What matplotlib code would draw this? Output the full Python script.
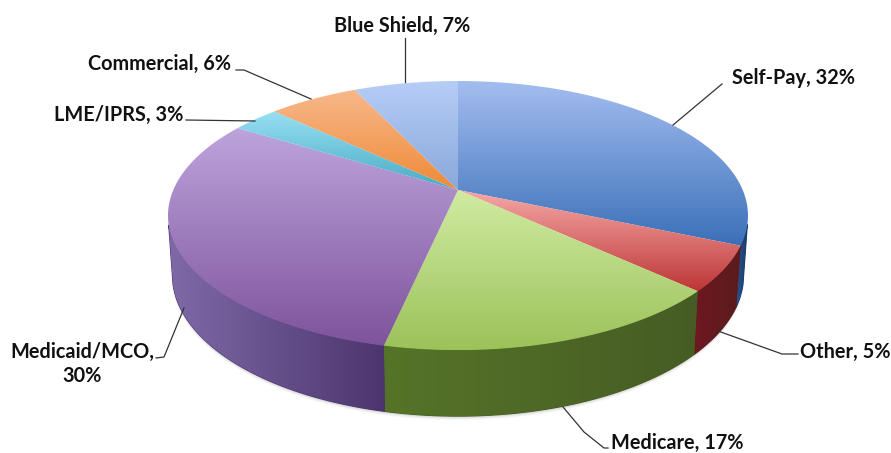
import numpy as np
import matplotlib
matplotlib.use("Agg")
import matplotlib.pyplot as plt
from matplotlib.colors import LinearSegmentedColormap
from matplotlib.patches import Polygon

categories = ["Self-Pay", "Other", "Medicare", "Medicaid/MCO", "LME/IPRS", "Commercial", "Blue Shield"]
shares = [31.5, 5.4, 16.5, 30.4, 3.2, 6.0, 7.0]
label_texts = ["Self-Pay, 32%", "Other, 5%", "Medicare, 17%", "Medicaid/MCO,\n30%",
               "LME/IPRS, 3%", "Commercial, 6%", "Blue Shield, 7%"]
label_xy = [(794, 78), (845, 352), (677, 443), (82, 364), (119, 115), (160, 64), (402, 26)]
leaders = [[(722, 84), (673, 125)],
           [(718, 331), (782, 354), (798, 354)],
           [(563, 407), (584, 432), (604, 448), (608, 448)],
           [(184, 308), (164, 357), (156, 358)],
           [(186, 120), (255, 121)],
           [(236, 70), (244, 70), (311, 99)],
           [(405, 38), (405, 82)]]
top_colors = [("#A4BDF0", "#3A70B8"), ("#F5AAA8", "#BE3636"), ("#D0EBA2", "#9CC25A"),
              ("#BDA4DC", "#7E539C"), ("#98E0F2", "#48AAC4"), ("#F8B88C", "#EF8A36"),
              ("#B6CDF7", "#8AA8DA")]
wall_colors = [("#2A5590", "#1B3A6C"), ("#6E1820", "#5A1C1C"), ("#567428", "#465C24"),
               ("#4C356E", "#7F6AA8"), ("#4BACC6", "#4BACC6"), ("#F08C3A", "#F08C3A"),
               ("#8AA8DA", "#8AA8DA")]

CX, CY = 458.0, 190.0
A, B, C = 284.7, 129.7, 0.19
WX, WY, BASE = 0.985, 1.05, 248.0
W, H = 891, 453

fig = plt.figure(figsize=(W / 100, H / 100), dpi=100)
ax = fig.add_axes([0, 0, 1, 1])
ax.set_xlim(0, W)
ax.set_ylim(H, 0)
ax.axis("off")


def rim(t):
    u, v = np.sin(t), np.cos(t)
    w = 1 + C * v
    return A * u / w, B * v / w


def fill(poly, c0, c1, vertical, lo, hi, z, seam=0.0):
    # a solid underlay closes the antialiased seam left by the clipped gradient
    if seam:
        ax.add_patch(Polygon(poly, closed=True, fc=c1, ec=c1, lw=seam, zorder=z - 0.5))
    cmap = LinearSegmentedColormap.from_list("g", [c0, c1])
    g = np.linspace(0, 1, 256)
    img = g[:, None] if vertical else g[None, :]
    ext = (0, W, hi, lo) if vertical else (lo, hi, H, 0)
    im = ax.imshow(img, cmap=cmap, extent=ext, aspect="auto", zorder=z, interpolation="bilinear")
    patch = Polygon(poly, closed=True, transform=ax.transData, fc="none", ec="none")
    ax.add_patch(patch)
    im.set_clip_path(patch)


edges = np.r_[0, np.cumsum(shares)] / np.sum(shares) * 2 * np.pi

# soft shadow under the disc (front part only)
full = np.linspace(np.pi * 0.6, np.pi * 1.4, 300)
fx, fy = rim(full)
for grow, alpha in [(4, 0.04), (3, 0.06), (2, 0.08), (1, 0.12)]:
    ax.fill(CX + WX * fx, BASE - WY * fy + grow, color="#555555", alpha=alpha, lw=0, zorder=1)

for i in range(len(shares)):
    t = np.linspace(edges[i], edges[i + 1], 300)
    t = t[np.cos(t) < -0.25]  # rear walls are hidden by the top face
    if t.size < 2:
        continue
    dx, dy = rim(t)
    tx, ty = CX + dx, CY - dy
    bx, by = CX + WX * dx, BASE - WY * dy
    wall = np.r_[np.c_[tx, ty], np.c_[bx, by][::-1]]
    c0, c1 = wall_colors[i]
    if t[0] > np.pi:
        c0, c1 = c1, c0
    fill(wall, c0, c1, False, wall[:, 0].min(), wall[:, 0].max(), 2, seam=0.8)

for i in range(len(shares)):
    t = np.linspace(edges[i], edges[i + 1], 160)
    dx, dy = rim(t)
    face = np.r_[[[CX, CY]], np.c_[CX + dx, CY - dy]]
    c0, c1 = top_colors[i]
    fill(face, c0, c1, True, face[:, 1].min(), face[:, 1].max(), 4)

for path, txt, (x, y) in zip(leaders, label_texts, label_xy):
    p = np.array(path)
    ax.plot(p[:, 0], p[:, 1], color="#333333", lw=0.9, zorder=5)
    ax.text(x, y, txt, ha="center", va="center", fontsize=14.3, fontweight="bold",
            family="Lato", color="#111111", linespacing=1.25, zorder=6)

ax.set_xlim(0, W)
ax.set_ylim(H, 0)
fig.savefig("out.png", dpi=100, facecolor="white")
